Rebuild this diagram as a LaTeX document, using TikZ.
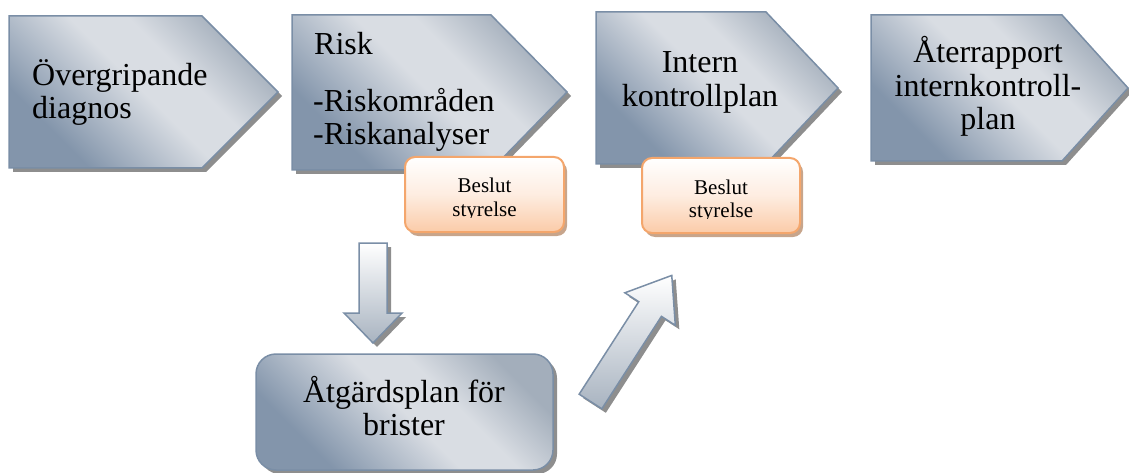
\documentclass[tikz,border=0pt]{standalone}
\usepackage{fontspec}
\setmainfont{Liberation Serif}
\definecolor{slate}{HTML}{7A8EA6}
\definecolor{cdk}{HTML}{8395AB}
\definecolor{clt}{HTML}{D9DDE3}
\definecolor{cmd}{HTML}{A3AEBB}
\definecolor{shadowc}{HTML}{8E8E8E}
\definecolor{orline}{HTML}{F4A66C}
\definecolor{orfill}{HTML}{FBCBA8}
\definecolor{orshadow}{HTML}{C7A58C}
\definecolor{arrowbot}{HTML}{A8B3C0}
\pgfdeclarehorizontalshading{chevsh}{100bp}{color(0bp)=(cdk); color(28bp)=(cdk); color(50bp)=(clt); color(60bp)=(clt); color(75bp)=(cmd); color(100bp)=(cmd)}
\tikzset{
 bigtxt/.style={inner sep=0pt, font=\fontsize{32}{36}\selectfont},
 smalltxt/.style={inner sep=0pt, font=\fontsize{21}{23}\selectfont},
 bodyshade/.style={shade, shading=chevsh, shading angle=45, draw=slate, line width=1.5pt, line join=miter},
 shadowfill/.style={fill=shadowc},
 orbox/.style={top color=white, bottom color=orfill, middle color=orfill!35, draw=orline, line width=2pt, rounded corners=10pt},
 orshadowbox/.style={fill=orshadow, rounded corners=10pt},
 arrowbody/.style={top color=white, bottom color=arrowbot, draw=slate, line width=1.5pt},
}
\newcommand\chevshape[6]{%
  \fill[shadowfill, shift={(4,4)}] (#1,#4) -- (#2,#4) -- (#3,#6) -- (#2,#5) -- (#1,#5) -- cycle;
  \path[bodyshade] (#1,#4) -- (#2,#4) -- (#3,#6) -- (#2,#5) -- (#1,#5) -- cycle;
}
\begin{document}
\begin{tikzpicture}[x=1pt,y=-1pt]
\useasboundingbox (0,0) rectangle (1129,473);
% chevrons
\chevshape{9}{202}{278}{16}{168}{92}
\chevshape{292}{491}{567}{15}{170}{92}
\chevshape{596}{766}{838}{12}{164}{88}
\chevshape{871}{1062}{1128}{15}{161}{88}
% decision boxes
\fill[orshadowbox, shift={(3,4)}] (405,157) rectangle (564,232);
\path[orbox] (405,157) rectangle (564,232);
\fill[orshadowbox, shift={(3,4)}] (642,158) rectangle (800,233);
\path[orbox] (642,158) rectangle (800,233);
% bottom box
\fill[shadowfill, rounded corners=20pt, shift={(4,4)}] (256,354) rectangle (553,470);
\path[bodyshade, rounded corners=20pt] (256,354) rectangle (553,470);
% down arrow
\fill[shadowfill, shift={(4,4)}] (359,243) -- (387,243) -- (387,313) -- (402,313) -- (373,343) -- (344,313) -- (359,313) -- cycle;
\path[arrowbody] (359,243) -- (387,243) -- (387,313) -- (402,313) -- (373,343) -- (344,313) -- (359,313) -- cycle;
% diagonal arrow
\begin{scope}[shift={(594.5,405.5)}, rotate=57.2]
\fill[shadowfill] (0,-13.5) -- (110,-13.5) -- (110,-30) -- (150,0) -- (110,30) -- (110,13.5) -- (0,13.5) -- cycle;
\end{scope}
\begin{scope}[shift={(590.5,401.5)}, rotate=57.2]
\path[arrowbody] (0,-13.5) -- (110,-13.5) -- (110,-30) -- (150,0) -- (110,30) -- (110,13.5) -- (0,13.5) -- cycle;
\end{scope}
% texts
\node[bigtxt, anchor=base west] (c1a) at (32,86) {Övergripande};
\node[bigtxt, anchor=base west] (c1b) at (32,119) {diagnos};
\node[bigtxt, anchor=base west] (c2a) at (314,55) {Risk};
\node[bigtxt, anchor=base west] (c2b) at (313,112) {-Riskområden};
\node[bigtxt, anchor=base west] (c2c) at (313,145) {-Riskanalyser};
\node[bigtxt, anchor=base] (c3a) at (700,73) {Intern};
\node[bigtxt, anchor=base] (c3b) at (700,107) {kontrollplan};
\node[bigtxt, anchor=base] (c4a) at (988,63) {Återrapport};
\node[bigtxt, anchor=base] (c4b) at (988,97) {internkontroll-};
\node[bigtxt, anchor=base] (c4c) at (988,130) {plan};
\node[bigtxt, anchor=base] (b1) at (404,402) {Åtgärdsplan för};
\node[bigtxt, anchor=base] (b2) at (404,435) {brister};
\begin{scope}
\clip (400,150) rectangle (570,217.5);
\node[smalltxt, anchor=base] (s1a) at (484.5,193) {Beslut};
\node[smalltxt, anchor=base] (s1b) at (484.5,216) {styrelse};
\end{scope}
\begin{scope}
\clip (637,150) rectangle (805,218.5);
\node[smalltxt, anchor=base] (s2a) at (721,194) {Beslut};
\node[smalltxt, anchor=base] (s2b) at (721,217) {styrelse};
\end{scope}
\end{tikzpicture}
\end{document}
